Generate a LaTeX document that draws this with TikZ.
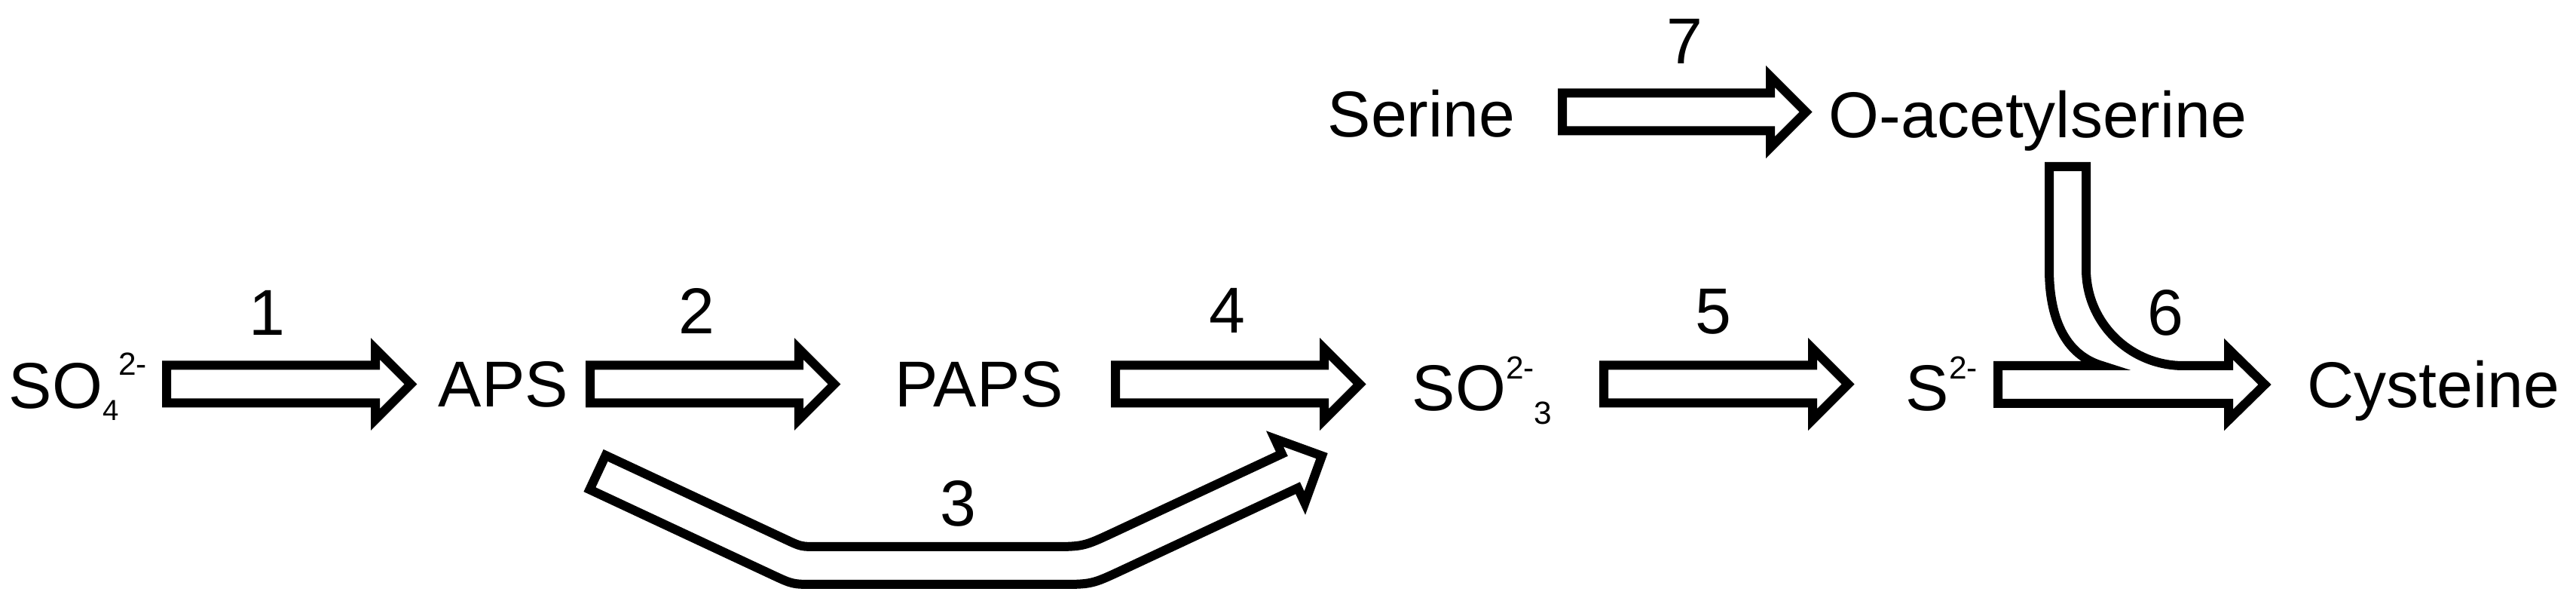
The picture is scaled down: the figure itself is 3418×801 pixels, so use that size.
\documentclass[tikz,border=0pt]{standalone}
\usepackage{fontspec}
\setmainfont{Liberation Sans}
\usetikzlibrary{calc}
\newcommand{\mainsize}{\fontsize{21.5pt}{25pt}\selectfont}
\newcommand{\smallsize}{\fontsize{10.6pt}{11pt}\selectfont}
\begin{document}
\begin{tikzpicture}[x=0.25pt,y=-0.25pt,
  txt/.style={inner sep=0pt,anchor=base west,font=\mainsize},
  num/.style={inner sep=0pt,anchor=base,font=\mainsize},
  outl/.style={draw=black,line width=3pt,fill=white,line join=miter,miter limit=10},
  blockarrow/.style={outl,to path={($(\tikztostart)+(0,-25)$) -- ($(\tikztotarget)+(-47,-25)$) -- ($(\tikztotarget)+(-47,-47)$) -- (\tikztotarget) -- ($(\tikztotarget)+(-47,47)$) -- ($(\tikztotarget)+(-47,25)$) -- ($(\tikztostart)+(0,25)$) -- cycle}}]
\useasboundingbox (0,0) rectangle (3418,801);
\fill[white] (0,0) rectangle (3418,801);

% texts
\node[txt] (so4) at (11,542) {SO\raisebox{-4pt}{\fontsize{9.6pt}{10pt}\selectfont 4}\raisebox{11pt}{\smallsize 2-}};
\node[txt] (aps) at (581,540) {APS};
\node[txt] (paps) at (1187,540) {PAPS};
\node[txt] (so3) at (1873,545) {SO\raisebox{10.5pt}{\smallsize 2-}\raisebox{-4.5pt}{\smallsize 3}};
\node[txt] (s2) at (2528,545) {S\raisebox{10.5pt}{\smallsize 2-}};
\node[txt] (cys) at (3061,541) {Cysteine};
\node[txt] (ser) at (1761,182) {Serine};
\node[txt] (oas) at (2426,183) {O-acetylserine};

% arrow end points
\coordinate (t1) at (221,509.5);  \coordinate (h1) at (545,509.5);
\coordinate (t2) at (783,509.5);  \coordinate (h2) at (1107,509.5);
\coordinate (t4) at (1480,509.5); \coordinate (h4) at (1804,509.5);
\coordinate (t5) at (2128,509.5); \coordinate (h5) at (2452,509.5);
\coordinate (t7) at (2073,148.5); \coordinate (h7) at (2396,148.5);

\draw[blockarrow] (t1) to (h1);
\draw[blockarrow] (t2) to (h2);
\draw[blockarrow] (t4) to (h4);
\draw[blockarrow] (t5) to (h5);
\draw[blockarrow] (t7) to (h7);

% arrow 3 (APS -> SO3 bypass)
\draw[outl] (803.6,603.9) -- (1043.1,715.7) .. controls (1063,725) .. (1085,725)
  -- (1392.2,725) .. controls (1437.2,725) .. (1478,706)
  -- (1700.8,601.9) -- (1691.5,581.9) -- (1754,604.6) -- (1731.3,667.1) -- (1722,647.2)
  -- (1489.2,756) .. controls (1448.4,775) .. (1403.4,775)
  -- (1081.8,775) .. controls (1051.8,775) .. (1024.6,762.3)
  -- (782.4,649.2) -- cycle;

% arrow 6 (S2- + O-acetylserine -> Cysteine)
\draw[outl] (2651,485) -- (2651,535) -- (2957,535) -- (2957,557) -- (3005,510) -- (2957,463) -- (2957,485)
  -- (2897,485) .. controls (2826,485) and (2768,428) .. (2768,357)
  -- (2768,221) -- (2719,221) -- (2719,357)
  .. controls (2719,430) and (2745,472) .. (2789,485) -- cycle;

% step numbers
\node[num] (n1) at (354,445) {1};
\node[num] (n2) at (924,443) {2};
\node[num] (n3) at (1271,698) {3};
\node[num] (n4) at (1628,442) {4};
\node[num] (n5) at (2273,443) {5};
\node[num] (n6) at (2873,445) {6};
\node[num] (n7) at (2235,85) {7};
\end{tikzpicture}
\end{document}
